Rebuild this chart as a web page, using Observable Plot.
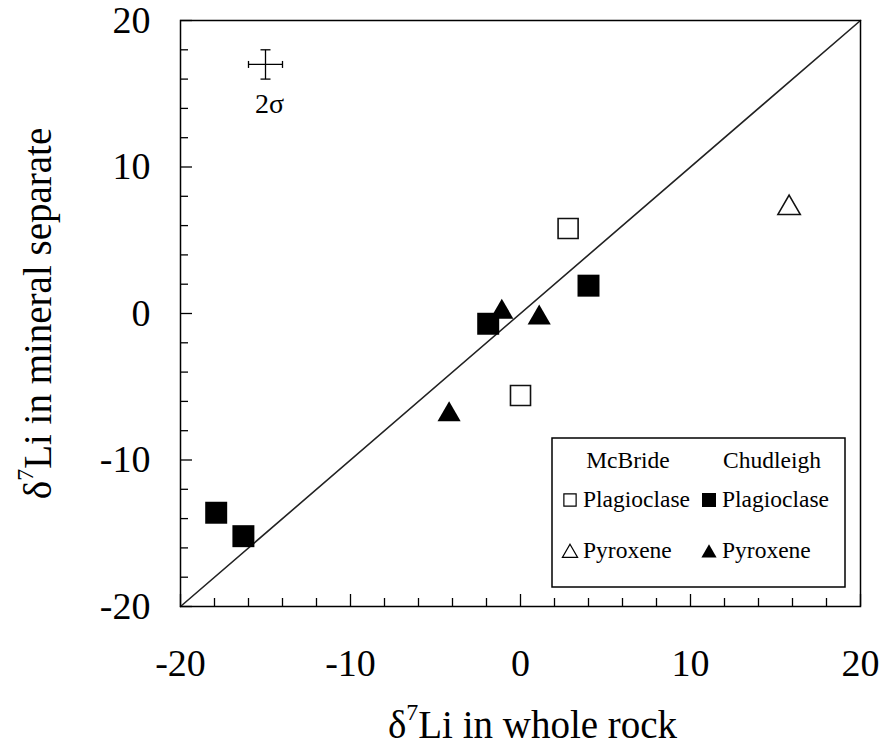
<!DOCTYPE html>
<html><head><meta charset="utf-8">
<script src="https://cdn.jsdelivr.net/npm/d3@7"></script>
<script src="https://cdn.jsdelivr.net/npm/@observablehq/plot@0.6"></script>
<style>body{margin:0;background:#fff}</style>
</head><body><div id="chart"></div>
<script>
// ---- data ----
const mcbridePlagX = [2.8, 0.0];
const mcbridePlagY = [5.8, -5.6];
const mcbridePyxX = [15.8];
const mcbridePyxY = [7.2];
const chudPlagX = [4.0, -1.9, -17.9, -16.3];
const chudPlagY = [1.9, -0.7, -13.6, -15.2];
const chudPyxX = [-1.1, 1.1, -4.2];
const chudPyxY = [0.1, -0.3, -6.9];
const diagX = [-20, 20];
const diagY = [-20, 20];
const errPoint = [{x: -15, y: 17}];
const err2s = 1;
const majorTicks = [-20, -10, 0, 10, 20];
const majorTickLabels = ["-20", "-10", "0", "10", "20"];
const minorTicks = [-18, -16, -14, -12, -8, -6, -4, -2, 2, 4, 6, 8, 12, 14, 16, 18];
const xLabel = "δ7Li in whole rock";
const yLabel = "δ7Li in mineral separate";
const legendHeaders = ["McBride", "Chudleigh"];
const legendItems = [
  {loc: 0, row: 0, name: "Plagioclase", symbol: "square", filled: false},
  {loc: 1, row: 0, name: "Plagioclase", symbol: "square", filled: true},
  {loc: 0, row: 1, name: "Pyroxene", symbol: "triangle", filled: false},
  {loc: 1, row: 1, name: "Pyroxene", symbol: "triangle", filled: true}
];

// ---- layout ----
const W = 887, H = 750, ML = 180, MR = 27, MT = 20, MB = 144;
const FW = W - ML - MR, FH = H - MT - MB;
const serif = '"Liberation Serif", "Times New Roman", serif';
const pts = (xs, ys) => xs.map((x, i) => ({x, y: ys[i]}));
const tickFmt = d => majorTickLabels[majorTicks.indexOf(d)];

const vbar = {draw(ctx, size) { const h = Math.sqrt(size / Math.PI); ctx.moveTo(0, -h); ctx.lineTo(0, h); }};
const hbar = {draw(ctx, size) { const h = Math.sqrt(size / Math.PI); ctx.moveTo(-h, 0); ctx.lineTo(h, 0); }};

const chart = Plot.plot({
  width: W, height: H,
  marginLeft: ML, marginRight: MR, marginTop: MT, marginBottom: MB,
  style: {fontFamily: serif, fontSize: "38px", color: "black", background: "white"},
  x: {domain: [-20, 20]},
  y: {domain: [-20, 20]},
  marks: [
    Plot.tickX(minorTicks, {x: d => d, insetTop: FH - 8, stroke: "black", strokeWidth: 1.3}),
    Plot.tickX(majorTicks, {x: d => d, insetTop: FH - 12, stroke: "black", strokeWidth: 1.3}),
    Plot.tickY(minorTicks, {y: d => d, insetRight: FW - 8, stroke: "black", strokeWidth: 1.3}),
    Plot.tickY(majorTicks, {y: d => d, insetRight: FW - 12, stroke: "black", strokeWidth: 1.3}),
    Plot.axisX(majorTicks, {tickSize: 0, tickPadding: 43, label: null, fontSize: 38, tickFormat: tickFmt}),
    Plot.axisY(majorTicks, {tickSize: 0, tickPadding: 30, label: null, fontSize: 38, tickFormat: tickFmt}),
    Plot.text([xLabel], {frameAnchor: "bottom", dy: 131, lineAnchor: "bottom", textAnchor: "middle", fontSize: 39, dx: 12}),
    Plot.text([yLabel], {frameAnchor: "left", rotate: -90, dx: -(ML - 50), lineAnchor: "bottom", textAnchor: "middle", fontSize: 39}),
    Plot.line(pts(diagX, diagY), {x: "x", y: "y", stroke: "#222", strokeWidth: 1.6}),
    // error bar (2 sigma)
    Plot.link(errPoint, {x1: d => d.x - err2s, x2: d => d.x + err2s, y1: "y", y2: "y", stroke: "black", strokeWidth: 1.3}),
    Plot.link(errPoint, {x1: "x", x2: "x", y1: d => d.y - err2s, y2: d => d.y + err2s, stroke: "black", strokeWidth: 1.3}),
    Plot.dot(errPoint.flatMap(d => [{x: d.x - err2s, y: d.y}, {x: d.x + err2s, y: d.y}]), {x: "x", y: "y", symbol: vbar, r: 3.5, stroke: "black", fill: "none", strokeWidth: 1.3}),
    Plot.dot(errPoint.flatMap(d => [{x: d.x, y: d.y - err2s}, {x: d.x, y: d.y + err2s}]), {x: "x", y: "y", symbol: hbar, r: 5, stroke: "black", fill: "none", strokeWidth: 1.3}),
    Plot.text(errPoint, {x: "x", y: "y", text: () => "2σ", dy: 49, dx: 4, lineAnchor: "bottom", fontSize: 28}),
    // data
    Plot.dot(pts(mcbridePlagX, mcbridePlagY), {x: "x", y: "y", symbol: "square", r: 11.3, fill: "white", stroke: "#111", strokeWidth: 1.6}),
    Plot.dot(pts(mcbridePyxX, mcbridePyxY), {x: "x", y: "y", symbol: "triangle", r: 8.3, fill: "white", stroke: "#111", strokeWidth: 1.6}),
    Plot.dot(pts(chudPlagX, chudPlagY), {x: "x", y: "y", symbol: "square", r: 12.4, fill: "black", stroke: "none"}),
    Plot.dot(pts(chudPyxX, chudPyxY), {x: "x", y: "y", symbol: "triangle", r: 8.6, fill: "black", stroke: "none"}),
    Plot.frame({stroke: "black", strokeWidth: 1.5})
  ]
});

// superscript 7 in axis labels
d3.select(chart).selectAll("text").each(function() {
  const t = this.textContent;
  if (t.startsWith("δ7")) {
    const el = d3.select(this);
    el.text(null);
    el.append("tspan").text("δ");
    el.append("tspan").text("7").attr("font-size", 24).attr("dy", -18);
    el.append("tspan").text(t.slice(2)).attr("dy", 18);
  }
});

// legend
const svg = d3.select(chart);
const boxW = 293, boxH = 149;
const bx = ML + FW - 15 - boxW, by = MT + FH - 19 - boxH;
const lg = svg.append("g").attr("fill", "black");
lg.append("rect").attr("x", bx).attr("y", by).attr("width", boxW).attr("height", boxH)
  .attr("fill", "white").attr("stroke", "black").attr("stroke-width", 1.5);
const styleText = s => s.style("font-family", serif).style("font-size", "23.5px").style("fill", "black");
const headerX = [76, 220];
legendHeaders.forEach((h, i) => {
  styleText(lg.append("text").attr("x", bx + headerX[i]).attr("y", by + 30).style("text-anchor", "middle").text(h));
});
const symX = [18, 157], txtX = [31, 170], rowSym = [62, 115], rowTxt = [69, 120];
legendItems.forEach(it => {
  const sz = it.symbol === "square" ? (it.filled ? 196 : 150) : 100;
  const sym = d3.symbol(it.symbol === "square" ? d3.symbolSquare : d3.symbolTriangle, sz);
  lg.append("path").attr("d", sym())
    .attr("transform", `translate(${bx + symX[it.loc]},${by + rowSym[it.row]})`)
    .attr("fill", it.filled ? "black" : "white")
    .attr("stroke", it.filled ? "none" : "black").attr("stroke-width", 1.2);
  styleText(lg.append("text").attr("x", bx + txtX[it.loc]).attr("y", by + rowTxt[it.row]).style("text-anchor", "start").text(it.name));
});

document.getElementById("chart").appendChild(chart);
</script>
</body></html>
